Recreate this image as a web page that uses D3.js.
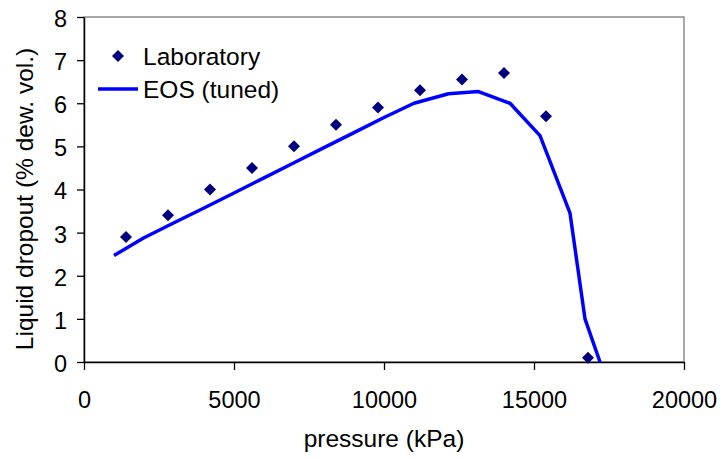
<!DOCTYPE html>
<html>
<head>
<meta charset="UTF-8">
<title>Liquid dropout</title>
<script src="https://d3js.org/d3.v7.min.js"></script>
<style>
  body { margin: 0; background: #fff; }
  svg { display: block; font-family: "Liberation Sans", Arial, sans-serif; }
</style>
</head>
<body>
<svg width="722" height="460"></svg>
<script>
// laboratory measurements
const labPressure = [1400, 2800, 4200, 5600, 7000, 8400, 9800, 11200, 12600, 14000, 15400, 16800];
const labDropout  = [2.9, 3.4, 4.0, 4.5, 5.0, 5.5, 5.9, 6.3, 6.55, 6.7, 5.7, 0.1];

// tuned EOS curve
const eosPressure = [1000, 2000, 3000, 4000, 5000, 6000, 7000, 8000, 9000, 10000, 11000, 12150, 13150, 14200, 15200, 16200, 16700, 17200];
const eosDropout  = [2.47, 2.88, 3.23, 3.57, 3.92, 4.27, 4.62, 4.97, 5.32, 5.67, 6.0, 6.22, 6.27, 6.0, 5.25, 3.45, 1.0, 0.0];

const xTicks = [0, 5000, 10000, 15000, 20000];
const yTicks = [0, 1, 2, 3, 4, 5, 6, 7, 8];

const margin = {left: 84, top: 17, right: 38, bottom: 98};
const w = 722, h = 460;

const svg = d3.select("svg");

const x = d3.scaleLinear().domain([0, 20000]).range([margin.left, w - margin.right]);
const y = d3.scaleLinear().domain([0, 8]).range([h - margin.bottom, margin.top]);

// frame (top/right grey)
svg.append("rect")
  .attr("x", x(0)).attr("y", y(8))
  .attr("width", x(20000) - x(0)).attr("height", y(0) - y(8))
  .attr("fill", "none").attr("stroke", "#8c8c8c").attr("stroke-width", 1.5);

const xAxis = svg.append("g")
  .attr("transform", "translate(0," + y(0) + ")")
  .call(d3.axisBottom(x).tickValues(xTicks).tickSize(8).tickSizeOuter(0).tickPadding(21).tickFormat(d3.format("d")));

const yAxis = svg.append("g")
  .attr("transform", "translate(" + x(0) + ",0)")
  .call(d3.axisLeft(y).tickValues(yTicks).tickSize(7).tickSizeOuter(0).tickPadding(10));

[xAxis, yAxis].forEach(g => {
  g.select(".domain").attr("stroke", "#000").attr("stroke-width", 1.5);
  g.selectAll(".tick line").attr("stroke", "#000").attr("stroke-width", 1.3);
  g.selectAll("text").attr("fill", "#000").style("font-size", "23.5px")
    .style("font-family", "'Liberation Sans', Arial, sans-serif");
});
yAxis.selectAll("text").attr("dy", "0.4em");

// EOS line
const eos = eosPressure.map((p, i) => [p, eosDropout[i]]);
svg.append("path")
  .datum(eos)
  .attr("fill", "none")
  .attr("stroke", "#0000ff")
  .attr("stroke-width", 3.5)
  .attr("stroke-linejoin", "round")
  .attr("d", d3.line().x(d => x(d[0])).y(d => y(d[1])));

// lab points
const diamond = d3.symbol().type(d3.symbolSquare).size(72);
svg.selectAll(".lab")
  .data(labPressure.map((p, i) => [p, labDropout[i]]))
  .enter()
  .append("path")
  .attr("class", "lab")
  .attr("d", diamond)
  .attr("transform", d => "translate(" + x(d[0]) + "," + y(d[1]) + ") rotate(45)")
  .attr("fill", "#000080");

// axis titles
svg.append("text")
  .attr("x", (x(0) + x(20000)) / 2).attr("y", 447)
  .attr("text-anchor", "middle")
  .style("font-size", "24.5px")
  .text("pressure (kPa)");

svg.append("text")
  .attr("transform", "translate(33,199) rotate(-90)")
  .attr("text-anchor", "middle")
  .style("font-size", "24.5px")
  .text("Liquid dropout (% dew. vol.)");

// legend
const legend = svg.append("g");
legend.append("path")
  .attr("d", diamond)
  .attr("transform", "translate(118,56) rotate(45)")
  .attr("fill", "#000080");
legend.append("line")
  .attr("x1", 98).attr("x2", 138).attr("y1", 89).attr("y2", 89)
  .attr("stroke", "#0000ff").attr("stroke-width", 3.5);
legend.append("text").attr("x", 143).attr("y", 64.5).style("font-size", "24.5px").text("Laboratory");
legend.append("text").attr("x", 143).attr("y", 98).style("font-size", "24.5px").text("EOS (tuned)");
</script>
</body>
</html>
